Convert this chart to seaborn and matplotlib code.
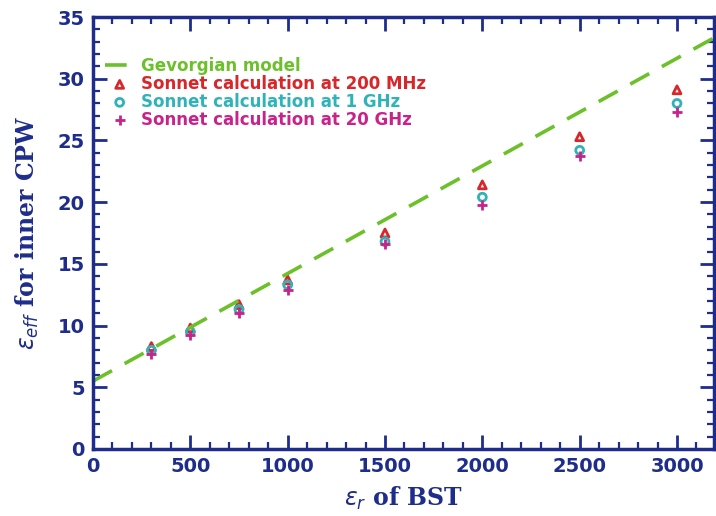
import numpy as np
import pandas as pd
import matplotlib
matplotlib.use("Agg")
import matplotlib.pyplot as plt
from matplotlib.ticker import MultipleLocator
import seaborn as sns

# values
er_bst = [300, 500, 750, 1000, 1500, 2000, 2500, 3000]
eff_200mhz = [8.3, 9.8, 11.7, 13.7, 17.5, 21.4, 25.3, 29.1]
eff_1ghz = [8.0, 9.5, 11.3, 13.3, 16.8, 20.4, 24.2, 28.0]
eff_20ghz = [7.7, 9.2, 11.0, 12.9, 16.6, 19.8, 23.7, 27.3]
model_x = [0, 3200]
model_y = [5.5, 33.4]

series = ["Sonnet calculation at 200 MHz", "Sonnet calculation at 1 GHz", "Sonnet calculation at 20 GHz"]
colors = ["#d8262a", "#2fb3b8", "#c8238a"]
green = "#6cc02a"
navy = "#1e2d8c"

df = pd.DataFrame({
    "er": er_bst * 3,
    "eff": eff_200mhz + eff_1ghz + eff_20ghz,
    "series": [s for s in series for _ in er_bst],
})
model = pd.DataFrame({"er": model_x, "eff": model_y})

sns.set_style("white")
fig = plt.figure(figsize=(7.16, 5.16), dpi=100)
ax = fig.add_axes([93 / 716, 67 / 516, 621 / 716, 432 / 516])

sns.lineplot(data=model, x="er", y="eff", ax=ax, color=green, lw=2.6,
             label="Gevorgian model")
ax.lines[0].set_dashes([6, 4])

markers = ["^", "o", "+"]
for s, c, m in zip(series, colors, markers):
    sub = df[df["series"] == s]
    if m == "+":
        sns.scatterplot(data=sub, x="er", y="eff", ax=ax, marker=m, color=c,
                        s=45, linewidth=2, label=s)
    else:
        sns.scatterplot(data=sub, x="er", y="eff", ax=ax, marker=m, facecolor="none",
                        edgecolor=c, s=32, linewidth=2, label=s)

ax.set_xlim(0, 3190)
ax.set_ylim(0, 35)
ax.xaxis.set_major_locator(MultipleLocator(500))
ax.xaxis.set_minor_locator(MultipleLocator(100))
ax.yaxis.set_major_locator(MultipleLocator(5))
ax.yaxis.set_minor_locator(MultipleLocator(1))
ax.tick_params(which="both", direction="in", top=True, right=True, color=navy,
               labelcolor=navy, bottom=True, left=True)
ax.tick_params(which="major", length=10, width=2, labelsize=14, pad=6)
ax.tick_params(which="minor", length=5, width=1.6)
for lab in ax.get_xticklabels() + ax.get_yticklabels():
    lab.set_fontweight("bold")
for sp in ax.spines.values():
    sp.set_color(navy)
    sp.set_linewidth(2.5)

ax.set_xlabel(r"$\varepsilon_r$ of BST", fontsize=17, color=navy, fontweight="bold",
              family="DejaVu Serif", labelpad=6)
ax.set_ylabel(r"$\varepsilon_{eff}$ for inner CPW", fontsize=17, color=navy,
              fontweight="bold", family="DejaVu Serif", labelpad=12)

leg = ax.legend(loc="upper left", bbox_to_anchor=(0.0, 0.935), frameon=False,
                fontsize=12, handlelength=1.8, handletextpad=0.4, labelspacing=0.0,
                borderaxespad=0.3)
for txt, c in zip(leg.get_texts(), [green] + colors):
    txt.set_color(c)
    txt.set_fontweight("bold")

fig.savefig("out.png", dpi=100)
